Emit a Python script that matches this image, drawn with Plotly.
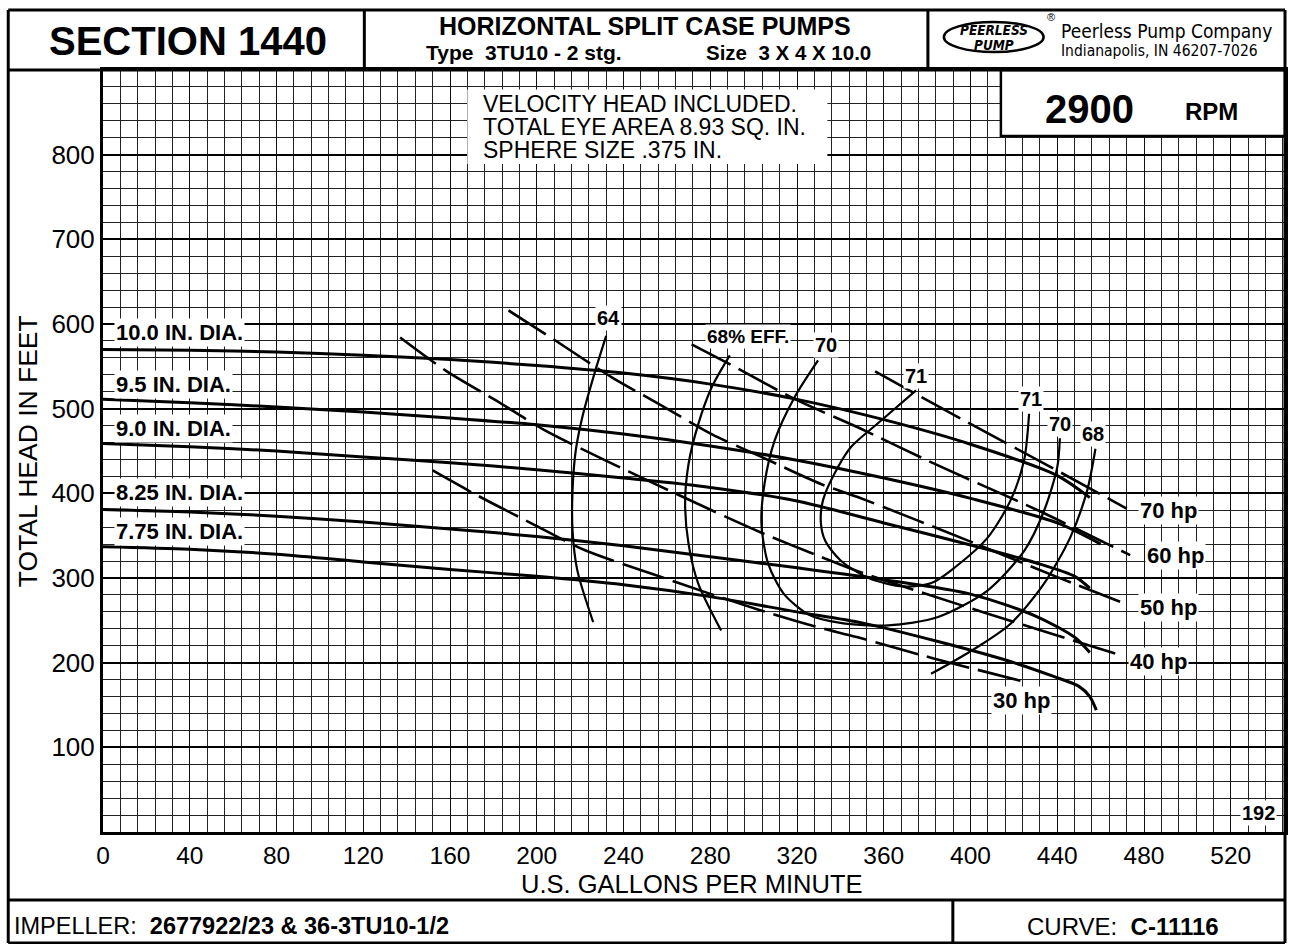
import plotly.graph_objects as go

# ---------------- data (gpm, feet) ----------------
d100_q = [0, 40, 80, 120, 160, 200, 240, 280, 320, 360, 400, 440, 455]
d100_h = [570, 569, 567, 563, 558, 551, 542, 529, 511, 487, 458, 421, 395]
d95_q = [0, 40, 80, 120, 160, 200, 240, 280, 320, 360, 400, 440, 460]
d95_h = [511, 507, 502, 496, 489, 481, 470, 456, 439, 418, 394, 365, 340]
d90_q = [0, 40, 80, 120, 160, 200, 240, 280, 320, 360, 400, 430, 448, 455]
d90_h = [459, 455, 450, 443, 436, 428, 418, 407, 391, 365, 339, 318, 302, 288]
d825_q = [0, 40, 80, 120, 160, 200, 240, 280, 320, 360, 400, 430, 448, 455]
d825_h = [381, 378, 373, 366, 358, 349, 338, 325, 312, 298, 281, 255, 230, 212]
d775_q = [0, 40, 80, 120, 160, 200, 240, 280, 320, 350, 385, 415, 438, 450, 455, 458]
d775_h = [337, 334, 328, 319, 310, 302, 292, 278, 260, 247, 225, 204, 184, 172, 160, 144]

e64_q = [232, 227, 221, 218, 216.5, 216.5, 218.7, 226]
e64_h = [586, 545, 490, 451, 404, 356, 309, 248]
e68_q = [289, 280.6, 274.5, 270, 268.4, 270, 274.5, 285]
e68_h = [563, 525, 482, 435, 388, 340, 293, 238]
e70_q = [329.7, 319, 309.7, 305, 303.6, 306.7, 314, 326, 340, 362, 385, 408, 425, 434, 440, 441.2]
e70_h = [557, 514, 462.5, 411, 364, 317, 281, 256, 247, 244, 254, 285.5, 333, 380, 431, 465]
e71_q = [374.9, 358.8, 345, 338.9, 332, 331, 333, 340, 353, 369, 382, 393, 408, 418.5, 424.7, 427]
e71_h = [521.6, 486, 455, 431, 392, 365, 344, 321, 300, 290, 294, 313, 348, 392, 439, 494]
e68r_q = [457.6, 453.8, 446, 433.8, 418.5, 403.2, 384.8, 381.8]
e68r_h = [452.6, 403.5, 348, 293, 246, 218.5, 191, 187]

hp70_q = [356, 400, 437, 472]
hp70_h = [544, 482, 431, 382]
hp60_q = [271.4, 293, 320, 348, 385, 431, 473.6]
hp60_h = [576, 547, 510, 478, 433, 380, 327]
hp50_q = [187, 208.6, 234.6, 256, 280.6, 303.6, 331, 348, 400, 440, 473]
hp50_h = [616, 580.5, 537, 506, 470, 443, 411, 395.6, 343, 301, 268]
hp40_q = [137, 158, 181, 204, 231.6, 253, 280.6, 305, 331, 348, 404, 440, 469]
hp40_h = [584, 545, 510, 474, 439, 413, 380, 352, 325, 308, 261, 232, 209]
hp30_q = [152, 173, 198, 222, 253, 278, 303, 328, 348, 383, 425.6]
hp30_h = [427, 397, 364, 333, 305, 283, 262, 243, 230, 205, 177]

x_ticks = [0, 40, 80, 120, 160, 200, 240, 280, 320, 360, 400, 440, 480, 520]
y_ticks = [100, 200, 300, 400, 500, 600, 700, 800]

dia_labels = ["10.0 IN. DIA.", "9.5 IN. DIA.", "9.0 IN. DIA.", "8.25 IN. DIA.", "7.75 IN. DIA."]
dia_label_h = [590, 529, 477, 400.5, 355.5]
eff_labels = ["64", "68% EFF.", "70", "71", "71", "70", "68"]
eff_label_q = [233.2, 297.6, 333.4, 374.8, 427.7, 441.1, 456.7]
eff_label_h = [607, 585.8, 575.2, 538.6, 511.4, 481.9, 470.1]
hp_labels = ["70 hp", "60 hp", "50 hp", "40 hp", "30 hp"]
hp_label_q = [491.3, 494.5, 491.3, 486.7, 423.3]
hp_label_h = [380.3, 326, 265.7, 200.8, 155.9]

FONT = "Liberation Sans, Arial, Helvetica, sans-serif"
NARROW = "Liberation Sans Narrow, DejaVu Sans Condensed, Liberation Sans, sans-serif"

# plot area in pixels
L, R, T, B = 103, 1288, 70, 832
W, H = 1294, 944


def P(px, py):
    return (px - L) / (R - L), (B - py) / (B - T)


fig = go.Figure()


def line(q, h, width, dash=None):
    fig.add_trace(go.Scatter(
        x=q, y=h, mode="lines", hoverinfo="skip", showlegend=False,
        line=dict(color="black", width=width, shape="spline", smoothing=0.8,
                  dash=dash if dash else "solid")))


for q, h in [(d100_q, d100_h), (d95_q, d95_h), (d90_q, d90_h), (d825_q, d825_h), (d775_q, d775_h)]:
    line(q, h, 3)
for q, h in [(e64_q, e64_h), (e68_q, e68_h), (e70_q, e70_h), (e71_q, e71_h), (e68r_q, e68r_h)]:
    line(q, h, 2.2)
for q, h in [(hp70_q, hp70_h), (hp60_q, hp60_h), (hp50_q, hp50_h), (hp40_q, hp40_h), (hp30_q, hp30_h)]:
    line(q, h, 2.6, dash="44px,9px")

ann = []


def A(text, x, y, size, bold=False, xanchor="center", yanchor="middle", ref="data", bg=None, angle=0, family=FONT, pad=1):
    if bold:
        text = "<b>" + text + "</b>"
    d = dict(text=text, x=x, y=y, showarrow=False, xanchor=xanchor, yanchor=yanchor,
             font=dict(family=family, size=size, color="black"), textangle=angle, borderpad=pad)
    if ref == "paper":
        d["xref"] = "paper"
        d["yref"] = "paper"
    if bg:
        d["bgcolor"] = bg
    ann.append(d)


for t, hh in zip(dia_labels, dia_label_h):
    A(t, 5, hh, 22, bold=True, xanchor="left", bg="white")
for t, q, hh in zip(eff_labels, eff_label_q, eff_label_h):
    A(t, q, hh, 19 if "EFF" in t else 20, bold=True, bg="white")
for t, q, hh in zip(hp_labels, hp_label_q, hp_label_h):
    A(t, q, hh, 22, bold=True, bg="white")
A("192", 533, 22.4, 20, bold=True, bg="white")

# note box
shapes = []
shapes.append(dict(type="rect", xref="x", yref="y", x0=168, x1=334, y0=789, y1=877,
                   fillcolor="white", line=dict(width=0), layer="above"))
for t, hh in zip(["VELOCITY HEAD INCLUDED.", "TOTAL EYE AREA 8.93 SQ. IN.", "SPHERE SIZE .375 IN."], [860, 833, 806]):
    A(t, 174.7, hh, 23, xanchor="left", pad=0)

# RPM box
shapes.append(dict(type="rect", xref="x", yref="y", x0=414, x1=545, y0=822, y1=900,
                   fillcolor="white", line=dict(width=2.5, color="black"), layer="above"))
A("2900", 455, 854, 40, bold=True)
A("RPM", 511, 851, 24, bold=True)


# frame
def seg(x0, y0, x1, y1, w=3):
    a = P(x0, y0)
    b = P(x1, y1)
    shapes.append(dict(type="line", xref="paper", yref="paper", x0=a[0], y0=a[1], x1=b[0], y1=b[1],
                       line=dict(color="black", width=w), layer="above"))


seg(8, 10, 1288, 10)
seg(8, 10, 8, 943)
seg(1288, 10, 1288, 943)
seg(8, 943, 1288, 943)
seg(8, 70, 1288, 70)
seg(365, 10, 365, 70)
seg(930, 10, 930, 70)
seg(8, 900, 1288, 900)
seg(955, 900, 955, 943)

# logo ellipse
e0 = P(946, 22)
e1 = P(1046, 52)
shapes.append(dict(type="circle", xref="paper", yref="paper", x0=e0[0], y0=e1[1], x1=e1[0], y1=e0[1],
                   line=dict(color="black", width=2.5), layer="above"))

# header and footer texts
x, y = P(188, 41); A("SECTION 1440", x, y, 40, bold=True, ref="paper")
x, y = P(646, 26); A("HORIZONTAL SPLIT CASE PUMPS", x, y, 25, bold=True, ref="paper")
x, y = P(425, 53); A("Type&nbsp; 3TU10 - 2 stg.", x, y, 21, bold=True, xanchor="left", ref="paper")
x, y = P(706, 53); A("Size&nbsp; 3 X 4 X 10.0", x, y, 20.5, bold=True, xanchor="left", ref="paper")
x, y = P(996, 29.5); A("<i>PEERLESS</i>", x, y, 13.5, bold=True, ref="paper", family=NARROW, pad=0)
x, y = P(996, 44.5); A("<i>PUMP</i>", x, y, 13.5, bold=True, ref="paper", family=NARROW, pad=0)
x, y = P(1053, 17); A("®", x, y, 11, ref="paper", pad=0)
x, y = P(1062, 30.5); A("Peerless Pump Company", x, y, 19, xanchor="left", ref="paper", family=NARROW, pad=0)
x, y = P(1062, 50.5); A("Indianapolis, IN 46207-7026", x, y, 15.5, xanchor="left", ref="paper", family=NARROW, pad=0)
x, y = P(12, 926); A("IMPELLER:&nbsp; <b>2677922/23 & 36-3TU10-1/2</b>", x, y, 23.5, xanchor="left", ref="paper")
x, y = P(1027, 926); A("CURVE:&nbsp; <b>C-11116</b>", x, y, 24, xanchor="left", ref="paper")
x, y = P(28, 451); A("TOTAL HEAD IN FEET", x, y, 26.5, ref="paper", angle=-90)
x, y = P(693, 884); A("U.S. GALLONS PER MINUTE", x, y, 25.5, ref="paper", pad=0)

fig.update_layout(
    width=W, height=H,
    margin=dict(l=L, r=W - R, t=T, b=H - B, pad=0),
    paper_bgcolor="white", plot_bgcolor="white",
    annotations=ann, shapes=shapes, showlegend=False,
    font=dict(family=FONT, color="black"),
)
fig.update_xaxes(
    range=[0, 545], tickmode="array", tickvals=x_ticks, ticks="",
    tickfont=dict(size=24.5, family=FONT, color="black"), ticklabelstandoff=0,
    showgrid=True, gridcolor="#111", gridwidth=1.4, zeroline=False,
    showline=True, linecolor="black", linewidth=3, mirror=True,
    minor=dict(tickmode="linear", tick0=0, dtick=8, showgrid=True, gridcolor="#222", gridwidth=1, ticks=""),
)
fig.update_yaxes(
    range=[0, 900], tickmode="array", tickvals=y_ticks, ticks="",
    tickfont=dict(size=26, family=FONT, color="black"), ticklabelstandoff=0,
    showgrid=True, gridcolor="#000", gridwidth=2, zeroline=False,
    showline=True, linecolor="black", linewidth=3, mirror=True,
    minor=dict(tickmode="linear", tick0=0, dtick=20, showgrid=True, gridcolor="#222", gridwidth=1, ticks=""),
)

fig.write_html("out.html", config={"displayModeBar": False},
               post_script="document.body.style.margin='0px';document.body.style.overflow='hidden';")
